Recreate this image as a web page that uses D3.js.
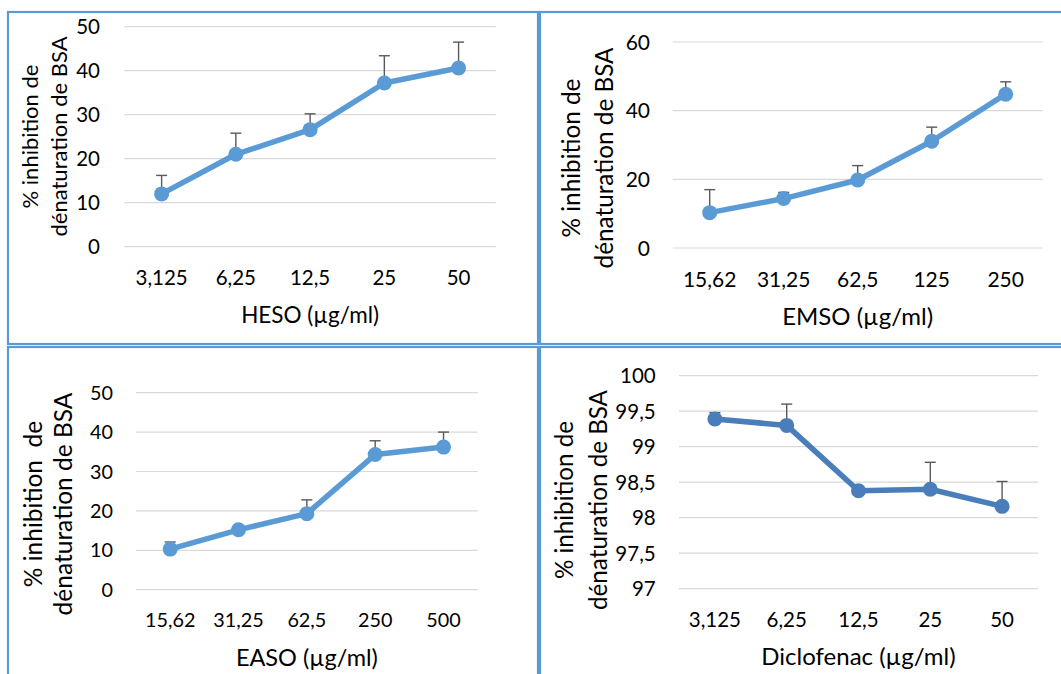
<!DOCTYPE html>
<html>
<head>
<meta charset="utf-8">
<script src="https://cdn.jsdelivr.net/npm/d3@7"></script>
<style>
  body { margin: 0; background: #fff; }
  svg { display: block; font-family: Lato, "Open Sans", sans-serif; }
  .grid line { stroke: #d9d9d9; stroke-width: 1.2; }
</style>
</head>
<body>
<div class="chart"></div>
<script>
// data
const hesoDoses = ["3,125", "6,25", "12,5", "25", "50"];
const hesoMean = [12.0, 21.0, 26.6, 37.2, 40.6];
const hesoErr = [4.2, 4.8, 3.6, 6.2, 5.9];
const hesoTicks = [0, 10, 20, 30, 40, 50];

const emsoDoses = ["15,62", "31,25", "62,5", "125", "250"];
const emsoMean = [10.3, 14.4, 19.8, 31.1, 44.8];
const emsoErr = [6.7, 1.8, 4.2, 4.1, 3.6];
const emsoTicks = [0, 20, 40, 60];

const easoDoses = ["15,62", "31,25", "62,5", "250", "500"];
const easoMean = [10.3, 15.2, 19.3, 34.3, 36.2];
const easoErr = [1.8, 0.3, 3.5, 3.5, 3.8];
const easoTicks = [0, 10, 20, 30, 40, 50];

const dicloDoses = ["3,125", "6,25", "12,5", "25", "50"];
const dicloMean = [99.39, 99.30, 98.38, 98.40, 98.16];
const dicloErr = [0.09, 0.30, 0.05, 0.38, 0.35];
const dicloTicks = [97, 97.5, 98, 98.5, 99, 99.5, 100];

const yTitle1 = ["% inhibition de", "% inhibition de", "% inhibition  de", "% inhibition de"];
const yTitle2 = "dénaturation de BSA";

const W = 1061, H = 674;
const svg = d3.select(".chart").append("svg")
    .attr("width", W)
    .attr("height", H);

svg.append("rect").attr("width", W).attr("height", H).attr("fill", "#fff");

const fmt = d => String(d).replace(".", ",");

// layout of each panel (pixels)
const panels = [
  {doses: hesoDoses, mean: hesoMean, err: hesoErr, ticks: hesoTicks, domain: [0, 50],
   title: "HESO (µg/ml)", t1: yTitle1[0], color: "#5b9bd5",
   box: [8, 12, 530, 332], x0: 124.5, x1: 495.7, yTop: 26.7, yBot: 246.7,
   tickR: 100, tickFs: 20.5, xTickY: 285, titleFs: 22.5, titleY: 323,
   yt: [38, 67], ytC: 136.5, ytFs: 22},
  {doses: emsoDoses, mean: emsoMean, err: emsoErr, ticks: emsoTicks, domain: [0, 60],
   title: "EMSO (µg/ml)", t1: yTitle1[1], color: "#5b9bd5",
   box: [540, 12, 530, 332], x0: 672.7, x1: 1042.7, yTop: 42, yBot: 248,
   tickR: 650, tickFs: 21, xTickY: 287, titleFs: 24, titleY: 325,
   yt: [580, 613], ytC: 158, ytFs: 24.3},
  {doses: easoDoses, mean: easoMean, err: easoErr, ticks: easoTicks, domain: [0, 50],
   title: "EASO (µg/ml)", t1: yTitle1[2], color: "#5b9bd5",
   box: [8, 347, 530, 340], x0: 136, x1: 477.7, yTop: 392.7, yBot: 589.7,
   tickR: 113, tickFs: 19.8, xTickY: 627, titleFs: 23.5, titleY: 666,
   yt: [42, 72], ytC: 504, ytFs: 24.5},
  {doses: dicloDoses, mean: dicloMean, err: dicloErr, ticks: dicloTicks, domain: [97, 100],
   title: "Diclofenac (µg/ml)", t1: yTitle1[3], color: "#4a7ebb",
   box: [540, 347, 530, 340], x0: 679, x1: 1038, yTop: 375.7, yBot: 588.7,
   tickR: 655.7, tickFs: 20.5, xTickY: 627, titleFs: 24, titleY: 665,
   yt: [573, 607], ytC: 500, ytFs: 24.2}
];

panels.forEach(p => {
  const [bx, by, bw, bh] = p.box;
  svg.append("rect")
      .attr("x", bx).attr("y", by)
      .attr("width", bw).attr("height", bh)
      .attr("fill", "none")
      .attr("stroke", "#5b9bd5")
      .attr("stroke-width", 2.2);

  const x = d3.scaleBand().domain(p.doses).range([p.x0, p.x1]);
  const y = d3.scaleLinear().domain(p.domain).range([p.yBot, p.yTop]);
  const g = svg.append("g");

  // gridlines
  g.append("g").attr("class", "grid")
    .selectAll("line")
    .data(p.ticks)
    .join("line")
      .attr("x1", p.x0).attr("x2", p.x1)
      .attr("y1", d => y(d)).attr("y2", d => y(d));

  // y tick labels
  g.append("g")
    .selectAll("text")
    .data(p.ticks)
    .join("text")
      .attr("x", p.tickR)
      .attr("y", d => y(d))
      .attr("dy", "0.36em")
      .attr("text-anchor", "end")
      .attr("font-size", p.tickFs)
      .text(fmt);

  // x tick labels
  g.append("g")
    .selectAll("text")
    .data(p.doses)
    .join("text")
      .attr("x", d => x(d) + x.bandwidth() / 2)
      .attr("y", p.xTickY)
      .attr("text-anchor", "middle")
      .attr("font-size", p.tickFs)
      .text(d => d);

  // axis titles
  g.append("text")
      .attr("x", (p.x0 + p.x1) / 2)
      .attr("y", p.titleY)
      .attr("text-anchor", "middle")
      .attr("font-size", p.titleFs)
      .text(p.title);

  [p.t1, yTitle2].forEach((t, i) => {
    g.append("text")
        .attr("transform", `translate(${p.yt[i]},${p.ytC}) rotate(-90)`)
        .attr("text-anchor", "middle")
        .attr("font-size", p.ytFs)
        .attr("xml:space", "preserve")
        .style("white-space", "pre")
        .text(t);
  });

  const cx = (d, i) => x(p.doses[i]) + x.bandwidth() / 2;

  // error bars (plus side only)
  const eb = g.append("g").attr("stroke", "#595959").attr("stroke-width", 1.4);
  eb.selectAll(".stem")
    .data(p.mean)
    .join("line")
      .attr("x1", cx).attr("x2", cx)
      .attr("y1", d => y(d))
      .attr("y2", (d, i) => y(d + p.err[i]));
  eb.selectAll(".cap")
    .data(p.mean)
    .join("line")
      .attr("x1", (d, i) => cx(d, i) - 5.5)
      .attr("x2", (d, i) => cx(d, i) + 5.5)
      .attr("y1", (d, i) => y(d + p.err[i]))
      .attr("y2", (d, i) => y(d + p.err[i]));

  // series line
  const line = d3.line()
      .x((d, i) => cx(d, i))
      .y(d => y(d));

  g.append("path")
      .datum(p.mean)
      .attr("fill", "none")
      .attr("stroke", p.color)
      .attr("stroke-width", 5.5)
      .attr("stroke-linejoin", "round")
      .attr("d", line);

  g.selectAll(".dot")
    .data(p.mean)
    .join("circle")
      .attr("cx", cx)
      .attr("cy", d => y(d))
      .attr("r", 7.5)
      .attr("fill", p.color);
});
</script>
</body>
</html>
